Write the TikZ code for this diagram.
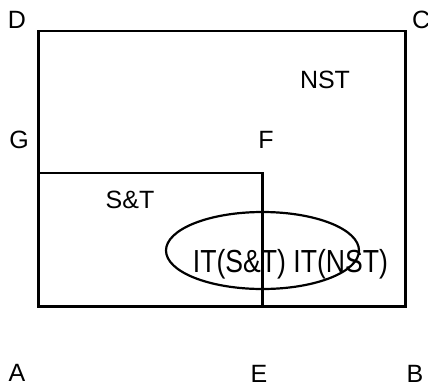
\documentclass[tikz,border=0pt]{standalone}
\usepackage{fontspec}
\setmainfont{Liberation Sans}
\usetikzlibrary{shapes.geometric}
\begin{document}
\begin{tikzpicture}[x=1pt,y=-1pt,
  lbl/.style={font=\fontsize{25}{28}\selectfont,inner sep=0pt,anchor=base},
  edge/.style={line width=2.4pt,line join=miter}]
\useasboundingbox (0,0) rectangle (428,386);
% corner coordinates
\coordinate (d) at (38.5,31);
\coordinate (c) at (405.5,31);
\coordinate (b) at (405.5,306.5);
\coordinate (a) at (38.5,306.5);
\coordinate (g) at (38.5,173);
\coordinate (f) at (262.5,173);
\coordinate (e) at (262.5,306.5);
% outer rectangle
\draw[edge] (a) -- (d) -- (c) -- (b) -- cycle;
% inner S&T box and divider
\draw[edge] (g) -- (f) -- (e);
% IT ellipse
\node[draw,line width=2.2pt,ellipse,minimum width=193pt,minimum height=77pt,inner sep=0pt] (it) at (262.5,250.5) {};
% labels
\node[lbl] (lD) at (17,28) {D};
\node[lbl,anchor=base west] (lC) at (412,28) {C};
\node[lbl] (lG) at (19,148) {G};
\node[lbl] (lF) at (266,148) {F};
\node[lbl] (lNST) at (325,88) {NST};
\node[lbl] (lST) at (130,208) {S\&T};
\node[inner sep=0pt,anchor=base,font=\fontsize{26.6}{30}\selectfont] (lIT) at (290.5,272) {\scalebox{1}[1.2]{IT(S\&T) IT(NST)}};
\node[lbl] (lA) at (17,381) {A};
\node[lbl] (lE) at (259,382) {E};
\node[lbl] (lB) at (415,382) {B};
\end{tikzpicture}
\end{document}
